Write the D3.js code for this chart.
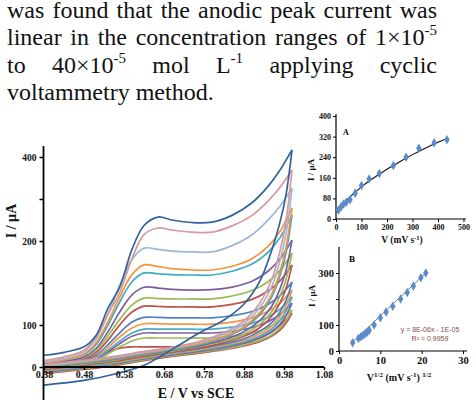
<!DOCTYPE html>
<html><head><meta charset="utf-8">
<script src="https://cdn.jsdelivr.net/npm/d3@7"></script>
<style>body{margin:0;background:#fff}svg{display:block}</style>
</head><body>
<svg id="c" width="476" height="400"></svg>
<script>
// ---------- paragraph text ----------
const paraWords = [
  ["was","found","that","the","anodic","peak","current","was"],
  ["linear","in","the","concentration","ranges","of","1×10^-5"],
  ["to","40×10^-5","mol","L^-1","applying","cyclic"],
  ["voltammetry","method."]
];
const paraJustify = [true, true, true, false];

// ---------- main CV plot data ----------
const mainXTicks = [0.38,0.48,0.58,0.68,0.78,0.88,0.98,1.08];
const mainYTicks = [0,100,200,300,400,500];
const mainYLabels = ["0","100","","200","","400"];
const fwdE = [0.38,0.43,0.48,0.51,0.54,0.57,0.60,0.63,0.665,0.70,0.75,0.80,0.85,0.90,0.94,0.97,1.00];
const revE = [1.00,0.985,0.97,0.95,0.92,0.88,0.83,0.77,0.70,0.63,0.56,0.48,0.38];
const curveColors = ["#31639c","#d8999a","#9db6da","#f7923a","#3faac4","#7b5ea0","#98ba55","#c0504d",
                     "#4f81bd","#f79646","#4bacc6","#8064a2","#9bbb59","#c0504d"];
const forwardI = [
  [28,35,48,75,140,192,280,337,357,350,344,345,361,391,430,469,517],
  [15,24,40,72,126,179,258,315,331,326,321,321,336,361,395,428,469],
  [12,20,36,66,126,196,256,283,280,276,274,274,289,315,350,383,426],
  [10,17,31,57,108,168,220,243,239,234,231,231,240,258,287,323,379],
  [10,16,29,53,100,156,203,224,222,220,219,219,228,245,273,308,362],
  [8,13,24,44,84,132,172,190,188,185,183,184,190,204,228,257,302],
  [8,13,22,39,74,114,148,164,163,162,162,162,169,182,203,230,271],
  [6,10,19,34,64,101,131,145,144,143,143,143,149,161,181,205,243],
  [6,9,16,28,53,82,107,118,118,117,117,117,122,132,149,170,202],
  [5,8,14,25,46,72,93,103,103,102,102,102,107,117,133,152,183],
  [4,7,12,21,40,62,81,90,90,90,90,90,95,104,119,138,167],
  [3,5,10,19,36,56,73,81,81,81,81,81,85,94,108,125,152],
  [3,5,9,16,31,48,62,69,69,69,69,69,73,81,94,111,136],
  [2,4,10,22,36,45,48,48,48,48,48,49,53,63,79,99,129]
];
const reverseI = [
  [517,410,345,280,205,150,112,82,42,4,-16,-32,-43],
  [469,349,276,210,153,110,82,61,47,37,26,16,6],
  [426,318,253,193,142,103,78,59,45,35,24,14,4],
  [379,285,227,175,130,96,73,56,43,33,22,12,2],
  [362,272,217,168,125,92,70,53,41,31,20,10,0],
  [302,230,186,146,111,84,65,51,40,30,19,9,-1],
  [271,208,169,133,102,78,62,49,38,28,17,7,-3],
  [243,187,153,122,94,73,58,46,36,26,15,5,-5],
  [202,158,131,106,85,67,55,44,35,25,14,4,-6],
  [183,145,120,98,79,63,52,42,33,23,12,2,-8],
  [167,133,111,91,74,60,49,40,31,21,10,0,-10],
  [152,122,102,84,69,56,46,37,29,19,8,-2,-12],
  [136,110,93,77,64,52,43,35,27,17,6,-4,-14],
  [129,104,88,74,61,50,41,33,25,15,4,-6,-16]
];

// ---------- inset A ----------
const aXTicks = [0,100,200,300,400,500];
const aYTicks = [0,80,160,240,320,400];
const aScanRate = [10,20,30,40,55,75,100,130,170,225,275,325,385,435];
const aPeakI    = [35,48,58,65,75,100,130,155,177,208,240,275,296,308];
const aFitV = [5,25,50,100,150,200,250,300,350,400,440];
const aFitI = [24,53,81,125,161,193,222,250,275,298,315];

// ---------- inset B ----------
const bXTicks = [0,10,20,30];
const bYTicks = [0,100,200,300];
const bYLabels = ["0","100","","300"];
const bSqrtV = [3.3,4.7,5.3,5.8,6.3,6.8,7.3,8.5,10.0,11.4,13.0,14.9,16.5,18.0,19.8,21.0];
const bPeakI = [32,48,55,60,65,72,80,100,128,150,172,200,225,250,282,300];
const bTrendX = [3,21];
const bTrendI = [30,300];
const bEquation = ["y = 8E-06x - 1E-05","R\u00B2 = 0.9959"];

// ================= drawing =================
const svg = d3.select("#c");
const SERIF = "'Liberation Serif','Times New Roman',serif";

// paragraph
const paraG = svg.append("g").attr("font-family", SERIF).attr("font-size", 24).attr("fill", "#111");
const paraBase = [17.5, 45, 72.5, 100];
const paraLeft = 7, paraRight = 437;
paraWords.forEach((words, li) => {
  const els = words.map(w => {
    const t = paraG.append("text").attr("y", paraBase[li]);
    const parts = w.split("^");
    t.append("tspan").text(parts[0]);
    if (parts[1]) t.append("tspan").attr("font-size", 15).attr("dy", -10).text(parts[1].replace("-", "-"));
    return t;
  });
  const widths = els.map(t => t.node().getComputedTextLength());
  const total = d3.sum(widths);
  const gap = paraJustify[li] ? (paraRight - paraLeft - total) / (words.length - 1) : 6;
  let x = paraLeft;
  els.forEach((t, i) => { t.attr("x", x); t.selectAll("tspan").filter((d, j) => j === 0).attr("x", x); x += widths[i] + gap; });
});

// main plot
const xMain = d3.scaleLinear().domain([0.38, 1.08]).range([44, 324]);
const yMain = d3.scaleLinear().domain([0, 500]).range([367, 157]);
const lineMain = d3.line().x(d => xMain(d[0])).y(d => yMain(d[1])).curve(d3.curveCatmullRom.alpha(0.5));

const curvesG = svg.append("g").attr("fill", "none").attr("stroke-width", 1.7).attr("stroke-linejoin", "round");
for (let k = forwardI.length - 1; k >= 0; k--) {
  const f = fwdE.map((e, i) => [e, forwardI[k][i]]);
  const r = revE.map((e, i) => [e, reverseI[k][i]]);
  curvesG.append("path").attr("d", lineMain(r)).attr("stroke", curveColors[k]);
  curvesG.append("path").attr("d", lineMain(f)).attr("stroke", curveColors[k]);
}

// main axes
const mx = svg.append("g").attr("transform", "translate(0,367)")
  .call(d3.axisBottom(xMain).tickValues(mainXTicks).tickSize(3).tickSizeOuter(0).tickFormat(d3.format(".2f")));
mx.select(".domain").remove();
mx.selectAll(".tick line").attr("stroke", "#000").attr("stroke-width", 1.5);
mx.selectAll("text").attr("font-family", SERIF).attr("font-weight", "bold").attr("font-size", 10).attr("fill", "#111").attr("dy", "0.55em").attr("y", 5);
svg.append("line").attr("x1", 43).attr("x2", xMain(1.08)).attr("y1", 367).attr("y2", 367).attr("stroke", "#000").attr("stroke-width", 1.8);

const my = svg.append("g").attr("transform", "translate(43.5,0)")
  .call(d3.axisLeft(yMain).tickValues(mainYTicks).tickSize(4).tickSizeOuter(0).tickFormat((d, i) => mainYLabels[i]));
my.select(".domain").remove();
my.selectAll(".tick line").attr("stroke", "#000").attr("stroke-width", 1.5);
my.selectAll("text").attr("font-family", SERIF).attr("font-weight", "bold").attr("font-size", 9.5).attr("fill", "#111").attr("x", -7);
svg.append("line").attr("x1", 43.5).attr("x2", 43.5).attr("y1", yMain(526)).attr("y2", 400).attr("stroke", "#000").attr("stroke-width", 1.8);

svg.append("text").attr("x", 196).attr("y", 398).attr("text-anchor", "middle")
  .attr("font-family", SERIF).attr("font-weight", "bold").attr("font-size", 14).attr("fill", "#111").text("E / V vs SCE");
svg.append("text").attr("transform", "translate(16,221) rotate(-90)").attr("text-anchor", "middle")
  .attr("font-family", SERIF).attr("font-weight", "bold").attr("font-size", 14).attr("fill", "#111").text("I / µA");

// helper for inset axes
function styleAxis(g, fs) {
  g.select(".domain").remove();
  g.selectAll(".tick line").attr("stroke", "#000").attr("stroke-width", 1);
  g.selectAll("text").attr("font-family", SERIF).attr("font-weight", "bold").attr("font-size", fs).attr("fill", "#111");
}
const diamond = d3.symbol().type(d3.symbolDiamond).size(26);

// inset A
const xA = d3.scaleLinear().domain([0, 500]).range([336, 463.5]);
const yA = d3.scaleLinear().domain([0, 400]).range([219, 116]);
const axA = svg.append("g").attr("transform", "translate(0,219)")
  .call(d3.axisBottom(xA).tickValues(aXTicks).tickSize(3).tickSizeOuter(0));
styleAxis(axA, 8); axA.selectAll("text").attr("y", 5);
const ayA = svg.append("g").attr("transform", "translate(336,0)")
  .call(d3.axisLeft(yA).tickValues(aYTicks).tickSize(3).tickSizeOuter(0));
styleAxis(ayA, 8); ayA.selectAll("text").attr("x", -5);
svg.append("line").attr("x1", 336).attr("x2", 466).attr("y1", 219).attr("y2", 219).attr("stroke", "#000").attr("stroke-width", 1.2);
svg.append("line").attr("x1", 336).attr("x2", 336).attr("y1", 219).attr("y2", yA(400) - 2).attr("stroke", "#000").attr("stroke-width", 1.2);
svg.append("path").attr("fill", "none").attr("stroke", "#111").attr("stroke-width", 1.1)
  .attr("d", d3.line().x((d) => xA(d[0])).y(d => yA(d[1])).curve(d3.curveCatmullRom)(aFitV.map((v, i) => [v, aFitI[i]])));
svg.append("g").selectAll("path").data(aScanRate.map((v, i) => [v, aPeakI[i]])).join("path")
  .attr("d", diamond).attr("transform", d => `translate(${xA(d[0])},${yA(d[1])})`).attr("fill", "#5a8ccb");
svg.append("text").attr("x", 343).attr("y", 135).attr("font-family", SERIF).attr("font-weight", "bold").attr("font-size", 8).text("A");
const tA = svg.append("text").attr("x", 402).attr("y", 243).attr("text-anchor", "middle")
  .attr("font-family", SERIF).attr("font-weight", "bold").attr("font-size", 9.5).attr("fill", "#111");
tA.append("tspan").text("V (mV s");
tA.append("tspan").attr("font-size", 6.5).attr("dy", -3.5).text("-1");
tA.append("tspan").attr("dy", 3.5).text(")");
svg.append("text").attr("transform", "translate(314,170) rotate(-90)").attr("text-anchor", "middle")
  .attr("font-family", SERIF).attr("font-weight", "bold").attr("font-size", 9).attr("fill", "#111").text("I / µA");

// inset B
const xB = d3.scaleLinear().domain([0, 30]).range([339, 463]);
const yB = d3.scaleLinear().domain([0, 400]).range([351, 247]);
const axB = svg.append("g").attr("transform", "translate(0,351)")
  .call(d3.axisBottom(xB).tickValues(bXTicks).tickSize(3).tickSizeOuter(0));
styleAxis(axB, 10.5); axB.selectAll("text").attr("y", 6);
const ayB = svg.append("g").attr("transform", "translate(339,0)")
  .call(d3.axisLeft(yB).tickValues(bYTicks).tickSize(3).tickSizeOuter(0).tickFormat((d, i) => bYLabels[i]));
styleAxis(ayB, 10.5); ayB.selectAll("text").attr("x", -5);
svg.append("line").attr("x1", 339).attr("x2", 467).attr("y1", 351).attr("y2", 351).attr("stroke", "#000").attr("stroke-width", 1.2);
svg.append("line").attr("x1", 339).attr("x2", 339).attr("y1", 351).attr("y2", yB(400)).attr("stroke", "#000").attr("stroke-width", 1.2);
svg.append("path").attr("fill", "none").attr("stroke", "#555").attr("stroke-width", 0.8)
  .attr("d", d3.line().x(d => xB(d[0])).y(d => yB(d[1]))(bTrendX.map((v, i) => [v, bTrendI[i]])));
svg.append("g").selectAll("path").data(bSqrtV.map((v, i) => [v, bPeakI[i]])).join("path")
  .attr("d", diamond).attr("transform", d => `translate(${xB(d[0])},${yB(d[1])})`).attr("fill", "#5a8ccb");
svg.append("text").attr("x", 349).attr("y", 262).attr("font-family", SERIF).attr("font-weight", "bold").attr("font-size", 9).text("B");
bEquation.forEach((s, i) => svg.append("text").attr("x", 430).attr("y", 332 + i * 9).attr("text-anchor", "middle")
  .attr("font-family", "'Liberation Sans',Arial,sans-serif").attr("font-size", 7).attr("fill", "#8b4a4a").text(s));
const tB = svg.append("text").attr("x", 399).attr("y", 381).attr("text-anchor", "middle")
  .attr("font-family", SERIF).attr("font-weight", "bold").attr("font-size", 10).attr("fill", "#111");
tB.append("tspan").text("V");
tB.append("tspan").attr("font-size", 7).attr("dy", -4).text("1/2");
tB.append("tspan").attr("dy", 4).text(" (mV s");
tB.append("tspan").attr("font-size", 7).attr("dy", -4).text("-1");
tB.append("tspan").attr("dy", 4).text(") ");
tB.append("tspan").attr("font-size", 7).attr("dy", -4).text("1/2");
svg.append("text").attr("transform", "translate(315,296) rotate(-90)").attr("text-anchor", "middle")
  .attr("font-family", SERIF).attr("font-weight", "bold").attr("font-size", 9).attr("fill", "#111").text("I / µA");
</script></body></html>
